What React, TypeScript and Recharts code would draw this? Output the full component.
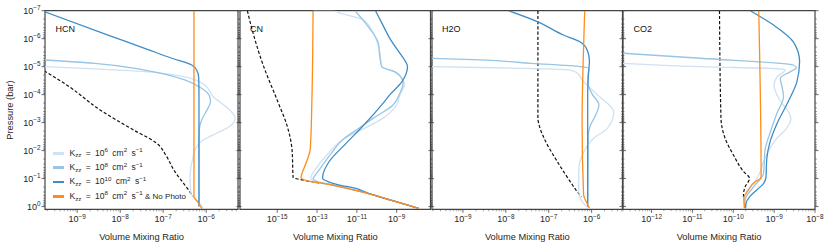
import { LineChart, Line, XAxis, YAxis, ReferenceArea } from "recharts";

// every series is a list of [pressure (bar), volume mixing ratio]
type Pt = [number, number];

// ---- HCN ----
const hcnEquilibrium: Pt[] = [
  [1.41e-5, 1.7e-10], [5e-5, 6.3e-10], [3.5e-4, 3.4e-9], [1.8e-3, 2.0e-8], [5.5e-3, 7.1e-8],
  [1.62e-2, 1.2e-7], [5e-2, 1.78e-7], [0.145, 2.95e-7], [0.33, 4.4e-7], [0.44, 5.0e-7],
];
const hcnK6: Pt[] = [
  [1e-5, 1.7e-10], [1.2e-5, 2.5e-9], [1.5e-5, 3.7e-8], [2.3e-5, 3.16e-7], [4.5e-5, 9.3e-7],
  [1.17e-4, 1.45e-6], [3.5e-4, 3.5e-6], [6.9e-4, 4.7e-6], [1.38e-3, 3.5e-6], [2.4e-3, 1.74e-6],
  [4.2e-3, 8.5e-7], [9.3e-3, 5.5e-7], [1.6e-2, 5.0e-7], [8.5e-2, 4.2e-7], [0.33, 4.4e-7],
  [0.76, 7.1e-7], [1.15, 8.5e-7],
];
const hcnK8: Pt[] = [
  [5.75e-6, 1.7e-10], [7.6e-6, 2.57e-9], [1.32e-5, 3.7e-8], [2.95e-5, 3.16e-7], [5.9e-5, 7.8e-7],
  [1.12e-4, 1.2e-6], [1.78e-4, 1.26e-6], [3.5e-4, 1.05e-6], [7.9e-4, 7.9e-7], [1.8e-3, 6.9e-7],
  [4e-3, 6.8e-7], [1.0, 6.8e-7],
];
const hcnK10: Pt[] = [
  [1.07e-7, 1.7e-10], [7.4e-7, 5.2e-9], [2.2e-6, 3.7e-8], [5e-6, 1.58e-7], [8.7e-6, 4.6e-7],
  [1.32e-5, 6.0e-7], [2.5e-5, 6.7e-7], [1e-4, 6.8e-7], [1.0, 6.8e-7],
];
const hcnNoPhoto: Pt[] = [[1e-7, 5.2e-7], [0.44, 5.2e-7], [0.7, 6.4e-7], [1.2, 8.0e-7]];

// ---- CN ----
const cnEquilibrium: Pt[] = [
  [1e-7, 3.16e-17], [5e-7, 5.6e-17], [1e-5, 2.1e-16], [1.58e-4, 1e-15], [1.58e-3, 3.4e-15],
  [1e-2, 5.6e-15], [9.1e-2, 6.3e-15], [0.12, 3.16e-14], [0.166, 5e-13], [0.33, 3.16e-11],
  [0.63, 7e-10], [1.15, 1.26e-8],
];
const cnK6: Pt[] = [
  [1e-7, 6.3e-14], [1.02e-7, 6.8e-13], [1.23e-7, 1.45e-12], [2.1e-7, 2.1e-11], [6.5e-7, 6.8e-11],
  [3.3e-6, 1.45e-10], [1e-5, 1.78e-10], [1.58e-5, 7.9e-10], [2.8e-5, 2e-9], [4.5e-5, 2.4e-9],
  [1e-4, 1.45e-9], [2.3e-4, 1e-9], [6.9e-4, 2.1e-10], [1.58e-3, 2.5e-11], [4e-3, 2e-12],
  [1.4e-2, 3.16e-13], [4.9e-2, 7.9e-14], [8.5e-2, 5e-14], [0.1, 4.8e-14], [0.13, 8e-14],
  [0.166, 5e-13], [0.33, 3.16e-11], [0.63, 7e-10], [1.15, 1.26e-8],
];
const cnK8: Pt[] = [
  [1e-7, 8.1e-12], [3.2e-7, 3.16e-11], [1.45e-6, 1.2e-10], [5e-6, 1.45e-10], [1e-5, 1.78e-10],
  [1.5e-5, 8.1e-10], [2.6e-5, 1.78e-9], [3.9e-5, 2.1e-9], [8.9e-5, 1.45e-9], [2.3e-4, 6.8e-10],
  [6.9e-4, 6.8e-11], [1.58e-3, 1.26e-11], [4e-3, 2e-12], [1.4e-2, 4.6e-13], [4.3e-2, 1.45e-13],
  [8.5e-2, 7.2e-14], [0.1, 6.3e-14], [0.13, 1.1e-13], [0.166, 5.5e-13], [0.33, 3.16e-11],
  [0.63, 7e-10], [1.15, 1.26e-8],
];
const cnK10: Pt[] = [
  [1e-7, 8.7e-11], [3.2e-7, 2e-10], [1e-6, 4.6e-10], [3.2e-6, 1.4e-9], [5e-6, 2.2e-9],
  [1e-5, 3.5e-9], [3.5e-5, 1.8e-9], [1e-4, 4.6e-10], [2e-4, 2.1e-10], [1.12e-3, 2.5e-11],
  [5.6e-3, 2.8e-12], [2.5e-2, 4e-13], [7.1e-2, 2e-13], [0.1, 1.9e-13], [0.13, 3.8e-13],
  [0.166, 1.2e-12], [0.22, 8e-12], [0.33, 3.5e-11], [0.63, 7e-10], [1.15, 1.26e-8],
];
const cnNoPhoto: Pt[] = [
  [1e-7, 6.3e-14], [1e-4, 5.6e-14], [8.3e-3, 4.6e-14], [3.2e-2, 2.6e-14], [7.4e-2, 1.66e-14],
  [9.3e-2, 1.58e-14], [0.12, 3.5e-14], [0.166, 5e-13], [0.33, 3.16e-11], [0.63, 7e-10],
  [1.15, 1.26e-8],
];

// ---- H2O ----
const h2oEquilibrium: Pt[] = [
  [1e-7, 5.6e-8], [7e-4, 5.6e-8], [1.26e-3, 6e-8], [3.6e-3, 7.8e-8], [2.45e-2, 1.58e-7],
  [0.13, 3.2e-7], [0.33, 4.9e-7], [0.44, 5.8e-7],
];
const h2oK6: Pt[] = [
  [1e-5, 1.7e-10], [1.07e-5, 2.57e-9], [1.32e-5, 3.2e-7], [1.74e-5, 4.7e-7], [2.95e-5, 6.0e-7],
  [1e-4, 1.35e-6], [4.2e-4, 3.3e-6], [1.58e-3, 2.35e-6], [3.6e-3, 1.12e-6], [1.1e-2, 6.6e-7],
  [5.6e-2, 5e-7], [0.29, 5e-7], [0.66, 6e-7], [1.15, 8.9e-7],
];
const h2oK8: Pt[] = [
  [5e-6, 1.7e-10], [5.75e-6, 2.57e-9], [7.6e-6, 4e-8], [1e-5, 5.5e-7], [1.15e-5, 8.7e-7],
  [1.8e-5, 8.3e-7], [3.5e-5, 8.1e-7], [1e-4, 1.05e-6], [2.3e-4, 1.48e-6], [6e-4, 1.2e-6],
  [1.2e-3, 9.5e-7], [3.2e-3, 8.3e-7], [1.0, 8.1e-7],
];
const h2oK10: Pt[] = [
  [1e-7, 1.15e-8], [2.45e-7, 5.4e-8], [7.4e-7, 2.2e-7], [1.4e-6, 5.8e-7], [2.8e-6, 8.1e-7],
  [6.3e-6, 8.9e-7], [1.58e-5, 8.5e-7], [1e-4, 8.1e-7], [1.0, 8.1e-7],
];
const h2oNoPhoto: Pt[] = [
  [1e-7, 6.9e-7], [1e-5, 6.3e-7], [1e-3, 6.0e-7], [0.38, 6.5e-7], [0.7, 7.6e-7], [1.15, 8.9e-7],
];

// ---- CO2 ----
const co2Equilibrium: Pt[] = [
  [1e-7, 4.6e-11], [7e-4, 5e-11], [3.6e-3, 6.3e-11], [1.4e-2, 1e-10], [5.6e-2, 1.78e-10],
  [9.8e-2, 2.5e-10], [0.195, 1.95e-10], [0.38, 1.78e-10], [0.5, 1.78e-10],
];
const co2K6: Pt[] = [
  [7.6e-6, 1.9e-13], [1e-5, 1.55e-11], [1.2e-5, 1.41e-9], [1.32e-5, 1.86e-9], [2.3e-5, 1.17e-9],
  [4.5e-5, 1e-9], [1.35e-4, 1.29e-9], [4.1e-4, 2.24e-9], [6.9e-4, 2.57e-9], [1.58e-3, 2.04e-9],
  [3.6e-3, 1.17e-9], [8.3e-3, 7.9e-10], [2.45e-2, 5.5e-10], [5.6e-2, 4.6e-10], [0.13, 3.4e-10],
  [0.29, 2.1e-10], [0.66, 1.78e-10], [1.15, 1.82e-10],
];
const co2K8: Pt[] = [
  [3.3e-6, 1.9e-13], [5e-6, 1.55e-11], [8.7e-6, 2.95e-9], [1.1e-5, 3.5e-9], [1.5e-5, 2.5e-9],
  [2.6e-5, 1.41e-9], [5.1e-5, 1.55e-9], [1.17e-4, 1.7e-9], [4.6e-4, 1.17e-9], [2.4e-3, 7.9e-10],
  [9.3e-3, 6e-10], [6.5e-2, 5.5e-10], [0.195, 3.16e-10], [0.57, 1.95e-10], [1.15, 1.9e-10],
];
const co2K10: Pt[] = [
  [1e-7, 2.6e-10], [3.2e-7, 9.5e-10], [1.3e-6, 2.95e-9], [6.6e-6, 4.2e-9], [3.5e-5, 3.6e-9],
  [1.78e-4, 2.2e-9], [1.1e-3, 1.17e-9], [5e-3, 7.9e-10], [2e-2, 6.6e-10], [9e-2, 6.3e-10],
  [0.15, 5.5e-10], [0.25, 3.8e-10], [0.45, 2.5e-10], [0.75, 2.05e-10], [1.15, 2e-10],
];
const co2NoPhoto: Pt[] = [
  [1e-7, 4.2e-10], [8e-2, 4.8e-10], [0.1, 4.6e-10], [0.13, 3.4e-10], [0.25, 2.4e-10],
  [0.5, 1.82e-10], [1.15, 1.9e-10],
];

// axes
const PRESSURE_DOMAIN: [number, number] = [1e-7, 1.25];
const PRESSURE_TICKS = [1e-7, 1e-6, 1e-5, 1e-4, 1e-3, 1e-2, 1e-1, 1];
const HCN_TICKS = [1e-9, 1e-8, 1e-7, 1e-6];
const CN_TICKS = [1e-15, 1e-13, 1e-11, 1e-9];
const H2O_TICKS = [1e-9, 1e-8, 1e-7, 1e-6];
const CO2_TICKS = [1e-12, 1e-11, 1e-10, 1e-9, 1e-8];

const FONT = '"Liberation Sans", Arial, Helvetica, sans-serif';
const INK = "#262626";
const TICK = "#444";
const C_K6 = "#cfe1f2";
const C_K8 = "#98c5e3";
const C_K10 = "#3f8dc8";
const C_NOPHOTO = "#ff8c1a";
const C_EQ = "#111111";

const LEGEND = [
  { color: C_K6, exp: "6", extra: "" },
  { color: C_K8, exp: "8", extra: "" },
  { color: C_K10, exp: "10", extra: "" },
  { color: C_NOPHOTO, exp: "8", extra: " & No Photo" },
];

interface PanelCfg {
  name: string;
  left: number;
  width: number;
  domain: [number, number];
  ticks: number[];
  minors: boolean;
  showY: boolean;
  eq: Pt[];
  k6: Pt[];
  k8: Pt[];
  k10: Pt[];
  noPhoto: Pt[];
}

const PANELS: PanelCfg[] = [
  { name: "HCN", left: 45, width: 193, domain: [1.78e-10, 5.5e-6], ticks: HCN_TICKS, minors: true, showY: true,
    eq: hcnEquilibrium, k6: hcnK6, k8: hcnK8, k10: hcnK10, noPhoto: hcnNoPhoto },
  { name: "CN", left: 239.5, width: 190.5, domain: [1.35e-17, 5.0e-8], ticks: CN_TICKS, minors: false, showY: false,
    eq: cnEquilibrium, k6: cnK6, k8: cnK8, k10: cnK10, noPhoto: cnNoPhoto },
  { name: "H2O", left: 431.5, width: 190.5, domain: [1.9e-10, 5.25e-6], ticks: H2O_TICKS, minors: true, showY: false,
    eq: h2oEquilibrium, k6: h2oK6, k8: h2oK8, k10: h2oK10, noPhoto: h2oNoPhoto },
  { name: "CO2", left: 623, width: 192, domain: [2.0e-13, 1e-8], ticks: CO2_TICKS, minors: true, showY: false,
    eq: co2Equilibrium, k6: co2K6, k8: co2K8, k10: co2K10, noPhoto: co2NoPhoto },
];

function withMinors(majors: number[], domain: [number, number]) {
  const lo = Math.floor(Math.log10(domain[0]));
  const hi = Math.ceil(Math.log10(domain[1]));
  const out = [...majors];
  for (let d = lo; d < hi; d++) {
    for (let k = 2; k <= 9; k++) {
      const v = k * Math.pow(10, d);
      if (v >= domain[0] && v <= domain[1]) out.push(v);
    }
  }
  return out.sort((a, b) => a - b);
}

function isDecade(v: number) {
  const l = Math.log10(v);
  return Math.abs(l - Math.round(l)) < 1e-6;
}

function expText(v: number) {
  const e = Math.round(Math.log10(v));
  return e < 0 ? `\u2212${-e}` : `${e}`;
}

function renderXTick(labelled: number[]) {
  return (props: any) => {
    const { x, y, payload } = props;
    const v: number = payload.value;
    const major = isDecade(v);
    const show = labelled.some((t) => Math.abs(t / v - 1) < 1e-6);
    return (
      <g>
        <line x1={x} x2={x} y1={y} y2={y + (major ? 3.5 : 2)} stroke={TICK} strokeWidth={major ? 0.8 : 0.5} />
        {show && (
          <text x={x} y={y + 13} textAnchor="middle" fontSize={9} fill={INK} fontFamily={FONT}>
            10<tspan dy={-3.8} fontSize={6.4}>{expText(v)}</tspan>
          </text>
        )}
      </g>
    );
  };
}

function renderYTick(plotWidth: number, showLabel: boolean) {
  return (props: any) => {
    const { x, y, payload } = props;
    const v: number = payload.value;
    const major = isDecade(v);
    const len = major ? 3.5 : 2;
    const sw = major ? 0.8 : 0.5;
    return (
      <g>
        <line x1={x} x2={x - len} y1={y} y2={y} stroke={TICK} strokeWidth={sw} />
        <line x1={x + plotWidth} x2={x + plotWidth + len} y1={y} y2={y} stroke={TICK} strokeWidth={sw} />
        {showLabel && major && (
          <text x={x - 4.5} y={y + 3.2} textAnchor="end" fontSize={9} fill={INK} fontFamily={FONT}>
            10<tspan dy={-3.8} fontSize={6.4}>{expText(v)}</tspan>
          </text>
        )}
      </g>
    );
  };
}

const toRows = (pts: Pt[]) => pts.map(([p, x]) => ({ p, x }));

function Panel({ cfg }: { cfg: PanelCfg }) {
  const yW = cfg.showY ? 45 : 10;
  const rightPad = 10;
  const xTicks = cfg.minors ? withMinors(cfg.ticks, cfg.domain) : cfg.ticks;
  const yTicks = withMinors(PRESSURE_TICKS, PRESSURE_DOMAIN);
  const series = [
    { key: "eq", pts: cfg.eq, color: C_EQ, dash: "3.2 2", w: 1.2 },
    { key: "k6", pts: cfg.k6, color: C_K6, dash: undefined, w: 1.3 },
    { key: "k8", pts: cfg.k8, color: C_K8, dash: undefined, w: 1.3 },
    { key: "k10", pts: cfg.k10, color: C_K10, dash: undefined, w: 1.3 },
    { key: "np", pts: cfg.noPhoto, color: C_NOPHOTO, dash: undefined, w: 1.3 },
  ];
  return (
    <div style={{ position: "absolute", left: cfg.left - yW, top: 0 }}>
      <LineChart
        width={yW + cfg.width + rightPad}
        height={247}
        margin={{ top: 10.7, right: rightPad, bottom: 0, left: 0 }}
      >
        <XAxis
          type="number"
          dataKey="x"
          scale="log"
          domain={cfg.domain}
          allowDataOverflow
          ticks={xTicks}
          interval={0}
          tickSize={0}
          tickMargin={0}
          axisLine={false}
          tickLine={false}
          height={37.7}
          tick={renderXTick(cfg.ticks)}
          label={{ value: "Volume Mixing Ratio", position: "insideBottom", offset: 7.5, fontSize: 9.3, fill: INK, fontFamily: FONT }}
        />
        <YAxis
          type="number"
          dataKey="p"
          scale="log"
          domain={PRESSURE_DOMAIN}
          reversed
          allowDataOverflow
          ticks={yTicks}
          interval={0}
          tickSize={0}
          tickMargin={0}
          axisLine={false}
          tickLine={false}
          width={yW}
          tick={renderYTick(cfg.width, cfg.showY)}
        />
        {series.map((s) => (
          <Line
            key={s.key}
            data={toRows(s.pts)}
            dataKey="p"
            type="monotoneY"
            stroke={s.color}
            strokeWidth={s.w}
            strokeDasharray={s.dash}
            dot={false}
            activeDot={false}
            isAnimationActive={false}
          />
        ))}
        <ReferenceArea
          x1={cfg.domain[0]}
          x2={cfg.domain[1]}
          y1={PRESSURE_DOMAIN[0]}
          y2={PRESSURE_DOMAIN[1]}
          fill="none"
          stroke="#444"
          strokeWidth={1.2}
          ifOverflow="visible"
        />
      </LineChart>
      <div
        style={{ position: "absolute", left: yW + 10.5, top: 25, fontSize: 9, lineHeight: "9px", color: "#111", fontFamily: FONT }}
      >
        {cfg.name}
      </div>
    </div>
  );
}

const supStyle = { fontSize: 6.2, position: "relative" as const, top: -3.4, lineHeight: 0 };
const subStyle = { fontSize: 6.2, position: "relative" as const, top: 1.7, lineHeight: 0 };

export default function App() {
  return (
    <div
      style={{ position: "absolute", left: 0, top: 0, width: 831, height: 247, background: "#fff", overflow: "hidden", fontFamily: FONT }}
    >
      {PANELS.map((p) => (
        <Panel key={p.name} cfg={p} />
      ))}
      <div
        style={{
          position: "absolute", left: 10, top: 110, transform: "translate(-50%, -50%) rotate(-90deg)",
          fontSize: 9.3, color: INK, whiteSpace: "nowrap",
        }}
      >
        Pressure (bar)
      </div>
      <div style={{ position: "absolute", left: 53, top: 146 }}>
        {LEGEND.map((l, i) => (
          <div key={i} style={{ display: "flex", alignItems: "center", height: 14.4 }}>
            <div style={{ width: 10.5, height: 2.8, background: l.color, marginRight: 6 }} />
            <span style={{ fontSize: 8.5, color: INK, whiteSpace: "nowrap", lineHeight: "10px" }}>
              <span style={{ wordSpacing: 2 }}>
                K<span style={subStyle}>zz</span> = 10<span style={supStyle}>{l.exp}</span> cm
                <span style={supStyle}>2</span> s<span style={supStyle}>{"\u22121"}</span>
              </span>
              <span style={{ fontSize: 8 }}>{l.extra}</span>
            </span>
          </div>
        ))}
      </div>
    </div>
  );
}
